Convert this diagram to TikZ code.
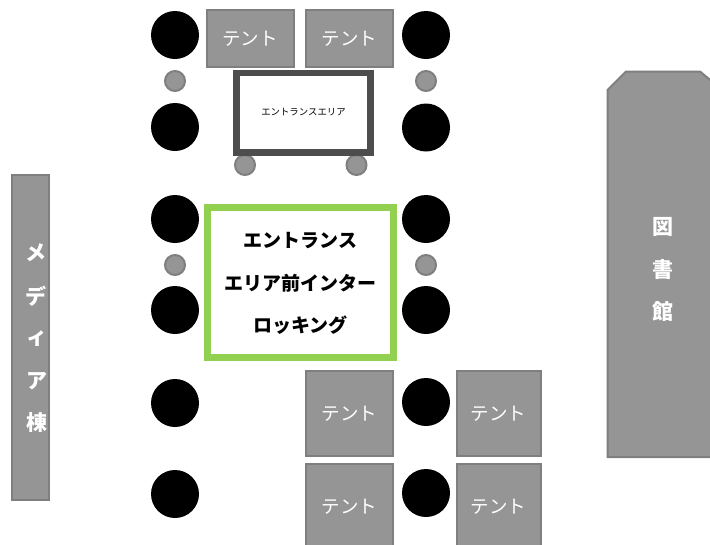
\documentclass[tikz,border=0pt]{standalone}
\usepackage{fontspec}
\setmainfont{Noto Sans CJK JP}
\definecolor{tentfill}{HTML}{959595}
\definecolor{tentline}{HTML}{7F7F7F}
\definecolor{darkline}{HTML}{4D4D4D}
\definecolor{greenline}{HTML}{92D050}
\tikzset{
  x=1pt,y=-1pt,
  bigdot/.style={circle,fill=black,draw=none,minimum size=48pt,inner sep=0pt},
  smalldot/.style={circle,fill=tentfill,draw=tentline,line width=2pt,minimum size=20pt,inner sep=0pt},
  tentbox/.style={rectangle,fill=tentfill,draw=tentline,line width=2pt,inner sep=0pt,text=white,font=\fontsize{18.5}{20}\selectfont,anchor=center},
  vlabel/.style={text=white,font=\fontsize{21}{24}\bfseries\selectfont,inner sep=0pt},
  locklabel/.style={anchor=base,inner sep=0pt,font=\fontsize{19}{22}\bfseries\selectfont},
}
\newcommand{\tentat}[5]{\node[tentbox,minimum width=#3pt,minimum height=#4pt] (#5) at (#1,#2) {\raisebox{-7.3pt}[0pt][0pt]{テント}};}
\begin{document}
\begin{tikzpicture}
\useasboundingbox (0,0) rectangle (710,544);
\clip (0,0) rectangle (710,544);
% black dots
\foreach \n/\x/\y in {a/175/35,b/426/35,c/175/127,d/426/127.5,e/175/219,f/426/219,g/175/310,h/426/310,i/175/403,j/426/402,k/175/494,l/426/493}
  \node[bigdot] (\n) at (\x,\y) {};
% small dots
\foreach \n/\x/\y in {p/175/81,q/426/81,r/245/165,s/356.5/165,t/175/265,u/426/265}
  \node[smalldot] (\n) at (\x,\y) {};
% tents
\tentat{250}{38.5}{87}{56.5}{t1}
\tentat{349.5}{38.5}{87}{56.5}{t2}
\tentat{349.5}{413.5}{87}{85}{t3}
\tentat{498.5}{413.5}{84}{85}{t4}
\tentat{349.5}{506}{87}{85}{t5}
\tentat{498.5}{506}{84}{85}{t6}
% entrance area
\node[rectangle,fill=white,draw=darkline,line width=6.5pt,minimum width=134pt,minimum height=79.5pt,inner sep=0pt,font=\fontsize{9.4}{10}\selectfont] (area) at (303.5,112.5) {エントランスエリア};
% interlocking
\node[rectangle,fill=white,draw=greenline,line width=7pt,minimum width=186.5pt,minimum height=150.5pt,inner sep=0pt] (lock) at (300.3,282.3) {};
\node[locklabel] (lock1) at (300.3,247.2) {エントランス};
\node[locklabel] (lock2) at (300.8,290) {エリア前インター};
\node[locklabel] (lock3) at (300.3,332.2) {ロッキング};
% media building
\node[rectangle,fill=tentfill,draw=tentline,line width=2pt,minimum width=37pt,minimum height=325pt,inner sep=0pt] (media) at (30,337) {};
\node[vlabel] (m1) at (36,253) {メ};
\node[vlabel] (m2) at (36,296) {デ};
\node[vlabel] (m3) at (37,339) {ィ};
\node[vlabel] (m4) at (37,381) {ア};
\node[vlabel] (m5) at (37,423) {棟};
% library
\draw[fill=tentfill,draw=tentline,line width=2pt] (607.5,90) -- (626,71.5) -- (700,71.5) -- (715,84) -- (715,457) -- (607.5,457) -- cycle;
\node[vlabel] (l1) at (663,227) {図};
\node[vlabel] (l2) at (663,270) {書};
\node[vlabel] (l3) at (663,312) {館};
\end{tikzpicture}
\end{document}
